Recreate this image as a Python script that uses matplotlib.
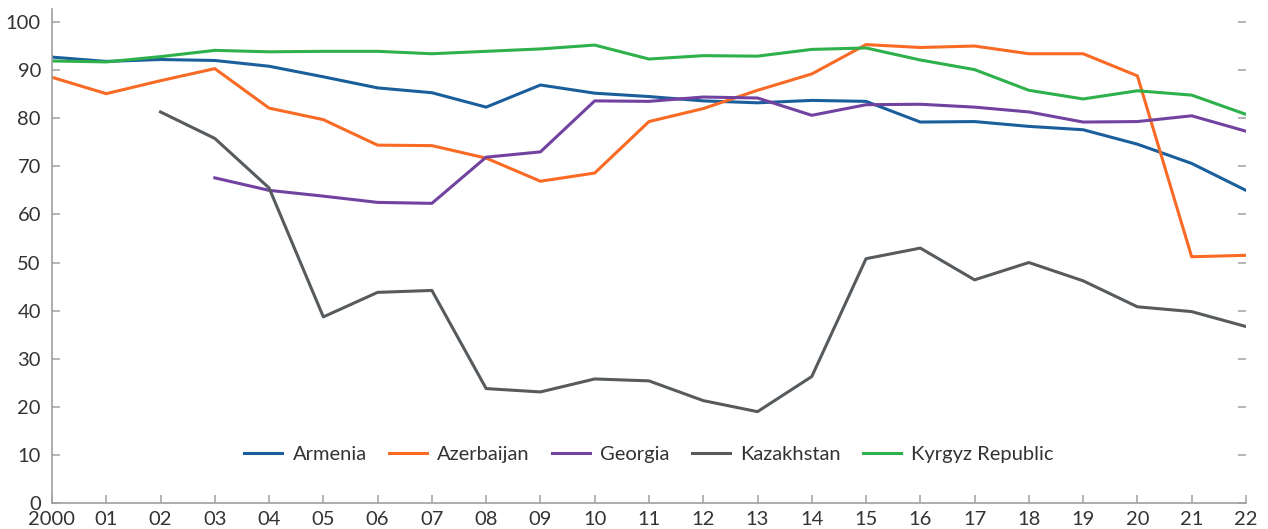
import numpy as np
import matplotlib.pyplot as plt

years = np.arange(2000, 2023)
tick_labels = ["2000"] + ["%02d" % (y % 100) for y in years[1:]]

armenia = [92.7, 91.8, 92.2, 92.0, 90.8, 88.6, 86.3, 85.3, 82.3, 86.9, 85.2, 84.5,
           83.6, 83.2, 83.7, 83.5, 79.2, 79.3, 78.3, 77.6, 74.6, 70.6, 65.0]
azerbaijan = [88.5, 85.1, 87.8, 90.3, 82.1, 79.7, 74.4, 74.3, 71.7, 66.9, 68.6, 79.3,
              82.0, 85.8, 89.2, 95.3, 94.7, 95.0, 93.4, 93.4, 88.8, 51.2, 51.5]
georgia = [np.nan, np.nan, np.nan, 67.6, 65.0, 63.8, 62.5, 62.3, 71.9, 73.0, 83.6, 83.5,
           84.4, 84.2, 80.6, 82.8, 82.9, 82.3, 81.3, 79.2, 79.3, 80.5, 77.3]
kazakhstan = [np.nan, np.nan, 81.3, 75.8, 65.5, 38.7, 43.8, 44.2, 23.8, 23.1, 25.8, 25.4,
              21.3, 19.0, 26.3, 50.8, 53.0, 46.4, 50.0, 46.2, 40.8, 39.8, 36.7]
kyrgyz = [91.9, 91.7, 92.8, 94.1, 93.8, 93.9, 93.9, 93.4, 93.9, 94.4, 95.2, 92.3,
          93.0, 92.9, 94.3, 94.6, 92.1, 90.1, 85.8, 84.0, 85.7, 84.8, 80.8]

series = [("Armenia", armenia, "#1a5f9c"),
          ("Azerbaijan", azerbaijan, "#f96a24"),
          ("Georgia", georgia, "#7242a0"),
          ("Kazakhstan", kazakhstan, "#575b5e"),
          ("Kyrgyz Republic", kyrgyz, "#2eb04b")]

plt.rcParams['font.family'] = ['Lato', 'DejaVu Sans']

fig = plt.figure(figsize=(12.68, 5.29), dpi=100)
ax = fig.add_axes([0.041, 0.049, 0.9416, 0.934])

for name, vals, col in series:
    ax.plot(years, vals, color=col, lw=2.2, label=name)

ax.set_xlim(2000, 2022)
ax.set_ylim(0, 102.7)
ax.set_xticks(years)
ax.set_xticklabels(tick_labels)
ax.set_yticks(np.arange(0, 101, 10))

for s in ["top", "right"]:
    ax.spines[s].set_visible(False)
for s in ["left", "bottom"]:
    ax.spines[s].set_color("#a0a0a0")
    ax.spines[s].set_linewidth(1.2)

ax.tick_params(axis="both", direction="in", length=6, width=1.1, color="#a0a0a0",
               labelsize=14.5, labelcolor="#333333")
ax.tick_params(axis="y", right=True, labelright=False, pad=8)
ax.tick_params(axis="x", pad=6)

ax.legend(loc="center", bbox_to_anchor=(0.5, 0.098), ncol=5, frameon=False,
          fontsize=14.5, handlelength=1.9, handletextpad=0.5, columnspacing=1.1,
          labelcolor="#333333")

fig.savefig("out.png", dpi=100)
